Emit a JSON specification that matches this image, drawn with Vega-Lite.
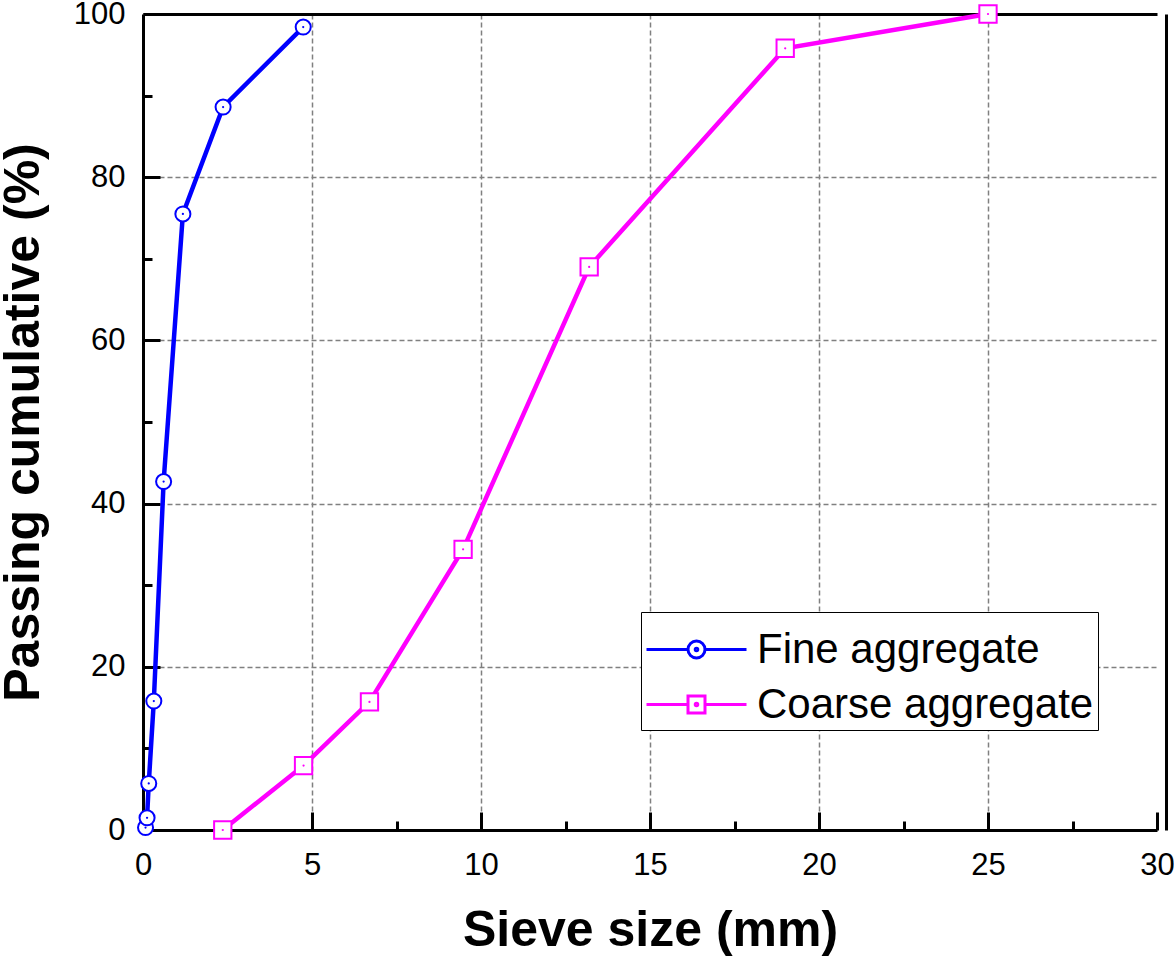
{
  "$schema": "https://vega.github.io/schema/vega-lite/v6.json",
  "width": 1014,
  "height": 816,
  "autosize": {"type": "none"},
  "padding": {"left": 143, "top": 14, "right": 17, "bottom": 129},
  "background": "white",
  "config": {
    "view": {"stroke": null},
    "font": "Liberation Sans",
    "axis": {
      "labelFont": "Liberation Sans",
      "labelFontSize": 31,
      "labelColor": "black",
      "labelFlush": false,
      "titleFont": "Liberation Sans",
      "titleFontWeight": "bold",
      "titleFontSize": 50,
      "titleColor": "black",
      "domainColor": "black",
      "domainWidth": 3,
      "tickColor": "black",
      "tickWidth": 3,
      "gridColor": "#808080",
      "gridDash": [5, 3],
      "gridWidth": 1.5
    }
  },
  "data": {
    "values": [
      {"series": "Fine aggregate", "size": 0.075, "pass": 0.3},
      {"series": "Fine aggregate", "size": 0.12, "pass": 1.5},
      {"series": "Fine aggregate", "size": 0.17, "pass": 5.7},
      {"series": "Fine aggregate", "size": 0.32, "pass": 15.8},
      {"series": "Fine aggregate", "size": 0.61, "pass": 42.7},
      {"series": "Fine aggregate", "size": 1.18, "pass": 75.5},
      {"series": "Fine aggregate", "size": 2.37, "pass": 88.6},
      {"series": "Fine aggregate", "size": 4.74, "pass": 98.4},
      {"series": "Coarse aggregate", "size": 2.36, "pass": 0},
      {"series": "Coarse aggregate", "size": 4.75, "pass": 7.9},
      {"series": "Coarse aggregate", "size": 6.7, "pass": 15.7},
      {"series": "Coarse aggregate", "size": 9.47, "pass": 34.4},
      {"series": "Coarse aggregate", "size": 13.2, "pass": 69.0},
      {"series": "Coarse aggregate", "size": 19.0, "pass": 95.8},
      {"series": "Coarse aggregate", "size": 25.0, "pass": 100}
    ]
  },
  "resolve": {"axis": {"x": "independent", "y": "independent"}},
  "layer": [
    {
      "mark": {"type": "line", "strokeWidth": 4.5, "clip": false},
      "encoding": {
        "x": {
          "field": "size", "type": "quantitative",
          "scale": {"domain": [0, 30], "nice": false, "zero": false},
          "axis": {
            "orient": "bottom",
            "title": "Sieve size (mm)",
            "titlePadding": 25,
            "values": [0, 2.5, 5, 7.5, 10, 12.5, 15, 17.5, 20, 22.5, 25, 27.5, 30],
            "labelExpr": "datum.value % 5 === 0 ? datum.label : ''",
            "tickSize": {"condition": {"test": "datum.value % 5 === 0", "value": -18}, "value": -9},
            "labelPadding": 38,
            "grid": true,
            "gridOpacity": {"condition": {"test": "datum.value % 5 === 0 && datum.value > 0 && datum.value < 30", "value": 1}, "value": 0}
          }
        },
        "y": {
          "field": "pass", "type": "quantitative",
          "scale": {"domain": [0, 100], "nice": false, "zero": false},
          "axis": {
            "orient": "left",
            "title": "Passing cumulative (%)",
            "titlePadding": 25,
            "values": [0, 10, 20, 30, 40, 50, 60, 70, 80, 90, 100],
            "labelExpr": "datum.value % 20 === 0 ? datum.label : ''",
            "tickSize": {"condition": {"test": "datum.value % 20 === 0", "value": -17}, "value": -9},
            "labelPadding": 35,
            "grid": true,
            "gridOpacity": {"condition": {"test": "datum.value % 20 === 0 && datum.value > 0 && datum.value < 100", "value": 1}, "value": 0}
          }
        },
        "color": {
          "field": "series", "type": "nominal",
          "scale": {"domain": ["Fine aggregate", "Coarse aggregate"], "range": ["#0000ff", "#ff00ff"]},
          "legend": {
            "title": null,
            "orient": "none",
            "legendX": 498,
            "legendY": 598,
            "direction": "vertical",
            "padding": 4,
            "strokeColor": "black",
            "fillColor": "white",
            "labelFont": "Liberation Sans",
            "labelFontSize": 42,
            "labelColor": "black",
            "labelLimit": 0,
            "labelOffset": 27,
            "symbolOffset": 18,
            "symbolSize": 4096,
            "symbolStrokeWidth": 3,
            "rowPadding": -9,
            "encode": {
              "symbols": {
                "update": {
                  "shape": {"signal": "datum.value === 'Fine aggregate' ? 'M-1.5625,0L-0.2656,0M0.2656,0L1.5625,0M0.2656,0A0.2656,0.2656,0,1,1,-0.2656,0A0.2656,0.2656,0,1,1,0.2656,0M0.04,0A0.04,0.04,0,1,1,-0.04,0A0.04,0.04,0,1,1,0.04,0' : 'M-1.5625,0L-0.2656,0M0.2656,0L1.5625,0M-0.2656,-0.2656L0.2656,-0.2656L0.2656,0.2656L-0.2656,0.2656ZM0.04,0A0.04,0.04,0,1,1,-0.04,0A0.04,0.04,0,1,1,0.04,0'"},
                  "fill": {"value": "transparent"},
                  "strokeWidth": {"value": 3}
                }
              }
            }
          }
        }
      }
    },
    {
      "mark": {"type": "point", "filled": false, "fill": "white", "fillOpacity": 1, "strokeWidth": 2, "opacity": 1, "clip": false},
      "encoding": {
        "x": {
          "field": "size", "type": "quantitative",
          "scale": {"domain": [0, 30], "nice": false, "zero": false},
          "axis": {"orient": "top", "title": null, "labels": false, "ticks": false, "grid": false}
        },
        "y": {
          "field": "pass", "type": "quantitative",
          "scale": {"domain": [0, 100], "nice": false, "zero": false},
          "axis": {"orient": "right", "offset": 9, "title": null, "labels": false, "ticks": false, "grid": false}
        },
        "stroke": {"condition": {"test": "datum.series === 'Fine aggregate'", "value": "#0000ff"}, "value": "#ff00ff"},
        "shape": {"condition": {"test": "datum.series === 'Fine aggregate'", "value": "circle"}, "value": "square"},
        "size": {"condition": {"test": "datum.series === 'Fine aggregate'", "value": 227}, "value": 300}
      }
    },
    {
      "mark": {"type": "point", "filled": true, "shape": "circle", "size": 5, "opacity": 1, "clip": false},
      "encoding": {
        "x": {"field": "size", "type": "quantitative", "axis": null},
        "y": {"field": "pass", "type": "quantitative", "axis": null},
        "fill": {"condition": {"test": "datum.series === 'Fine aggregate'", "value": "#0000ff"}, "value": "#ff00ff"}
      }
    }
  ]
}
